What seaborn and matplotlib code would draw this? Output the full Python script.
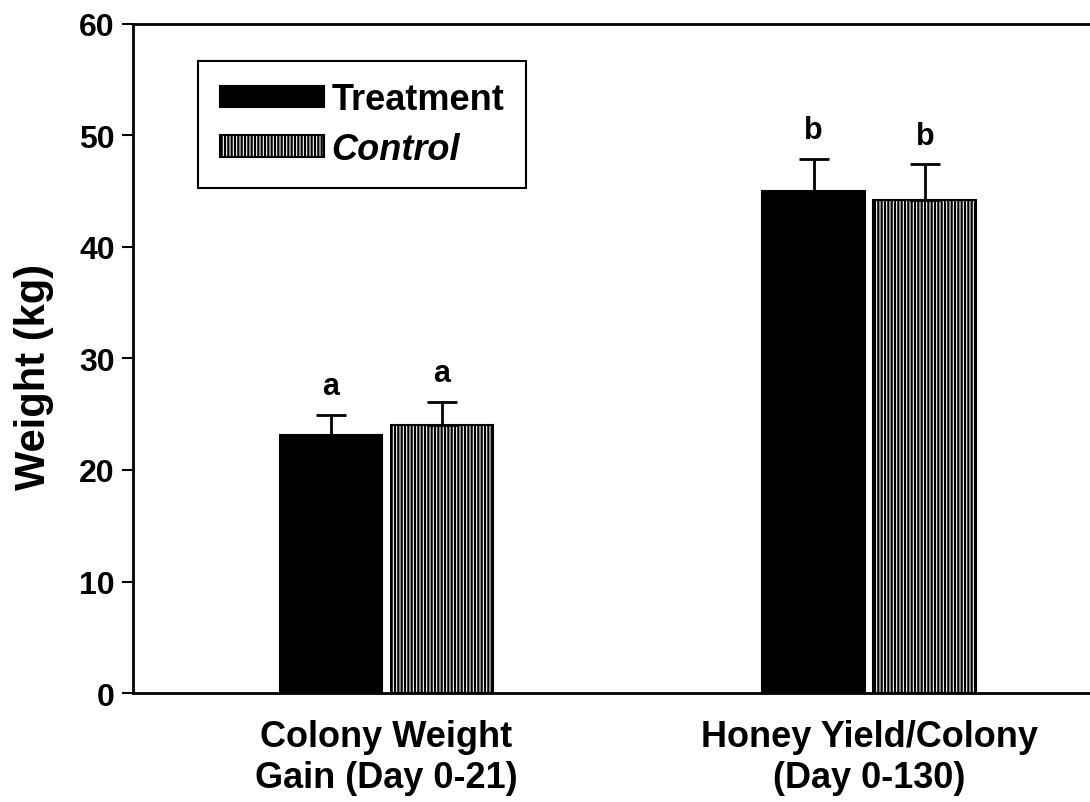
import numpy as np
import pandas as pd
import matplotlib
matplotlib.use("Agg")
import matplotlib.pyplot as plt
import seaborn as sns

categories = ['Colony Weight\nGain (Day 0-21)', 'Honey Yield/Colony\n(Day 0-130)']
groups = ['Treatment', 'Control']
treatment = [23.1, 45.0]
control = [24.0, 44.2]
treatment_err = [1.8, 2.9]
control_err = [2.1, 3.2]
letters = ['a', 'b']

sns.set_theme(style="ticks")
plt.rcParams['font.family'] = ['Liberation Sans', 'DejaVu Sans']
plt.rcParams['font.weight'] = 'bold'
plt.rcParams['hatch.linewidth'] = 1.6
plt.rcParams['text.color'] = 'black'
plt.rcParams['axes.labelcolor'] = 'black'
plt.rcParams['xtick.color'] = 'black'
plt.rcParams['ytick.color'] = 'black'

df = pd.DataFrame({
    'cat': categories * 2,
    'group': ['Treatment'] * 2 + ['Control'] * 2,
    'value': treatment + control,
})

fig = plt.figure(figsize=(10.9, 8.03), dpi=100)
ax = fig.add_axes([0.122, 0.1357, 0.878, 0.8333])

sns.barplot(data=df, x='cat', y='value', hue='group', hue_order=groups,
            palette={'Treatment': 'black', 'Control': 'white'},
            width=0.46, gap=0.074, edgecolor='black', linewidth=1.5,
            legend=False, ax=ax)

bars = list(ax.containers)
for p in bars[1]:
    p.set_hatch('|||||')

errs = [treatment_err, control_err]
vals = [treatment, control]
for k, cont in enumerate(bars):
    xs = [p.get_x() + p.get_width() / 2 for p in cont]
    ax.errorbar(xs, vals[k], yerr=[np.zeros(2), errs[k]], fmt='none',
                ecolor='black', elinewidth=2, capsize=11, capthick=2, zorder=1)
    for i, x in enumerate(xs):
        ax.annotate(letters[i], (x, vals[k][i] + errs[k][i]), xytext=(0, 10),
                    textcoords='offset points', ha='center', va='bottom',
                    fontsize=22, fontweight='bold', color='black')

ax.set_ylim(0, 60)
ax.set_yticks(range(0, 61, 10))
ax.set_xlim(-0.525, 1.457)
ax.set_xlabel('')
ax.set_ylabel('Weight (kg)', fontsize=30, fontweight='bold')
ax.yaxis.set_label_coords(-0.083, 0.474)
ax.tick_params(axis='y', labelsize=23, length=8, width=1.5, direction='out', pad=5)
ax.tick_params(axis='x', labelsize=26, length=0, pad=19)
for lab in ax.get_xticklabels() + ax.get_yticklabels():
    lab.set_fontweight('bold')

sns.despine(ax=ax, right=True, top=False)
for s in ['left', 'bottom', 'top']:
    ax.spines[s].set_linewidth(2)
    ax.spines[s].set_color('black')

leg = ax.legend(bars, groups, loc='upper left',
                bbox_to_anchor=(0.068, 0.945), borderaxespad=0,
                fancybox=False, edgecolor='black', framealpha=1,
                prop={'size': 26, 'weight': 'bold'},
                handlelength=2.9, handleheight=0.55, handletextpad=0.2,
                labelspacing=0.4, borderpad=0.6)
leg.get_frame().set_linewidth(1.5)
leg.get_texts()[1].set_style('italic')

fig.savefig('out.png', dpi=100)
